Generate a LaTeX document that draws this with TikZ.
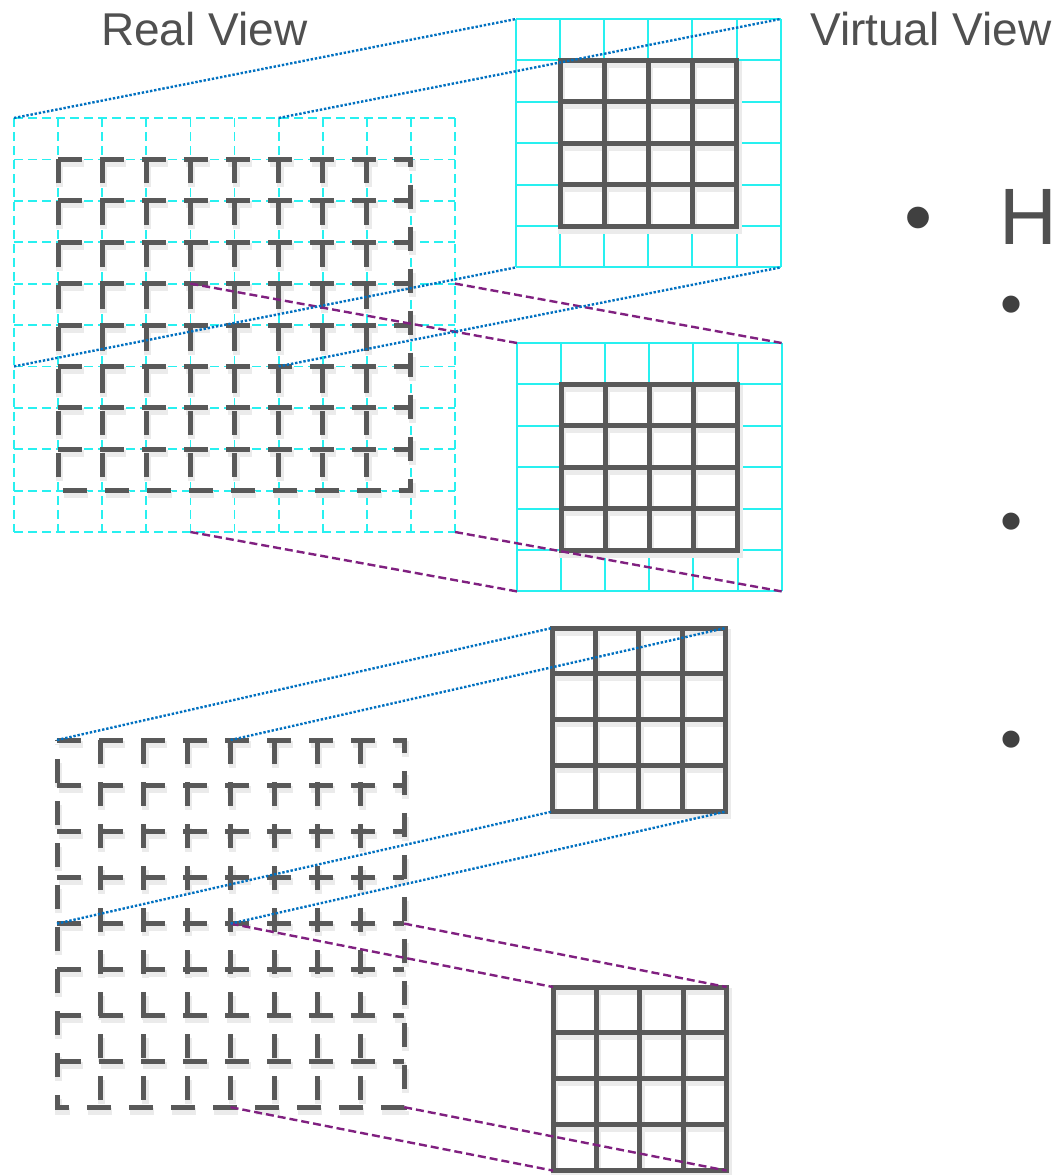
\documentclass[tikz,border=0pt]{standalone}
\usepackage{fontspec}
\setmainfont{Liberation Sans}
\usepackage{tikz}
\usetikzlibrary{positioning}
\usepackage{xcolor}

\definecolor{griddark}{RGB}{89,89,89}
\definecolor{gridcyan}{RGB}{40,240,240}
\definecolor{linkblue}{RGB}{0,112,192}
\definecolor{linkpurple}{RGB}{128,32,128}
\definecolor{textgray}{RGB}{80,80,80}
\definecolor{bulletgray}{RGB}{64,64,64}

\begin{document}
\begin{tikzpicture}[
  x=1pt, y=-1pt,
  shadowed/.style={preaction={draw=black!8, line width=7pt, #1,
                   transform canvas={shift={(1.5pt,-4pt)}}}},
  shadowed/.default={solid},
  realdash/.style={griddark, line width=5pt,
                   dash pattern=on 24pt off 18pt,
                   shadowed={dash pattern=on 24pt off 18pt}},
  virtline/.style={griddark, line width=5pt, shadowed},
  cyandash/.style={gridcyan, line width=1.8pt, dash pattern=on 9pt off 5pt},
  cyanline/.style={gridcyan, line width=2pt},
  bluelink/.style={linkblue, line width=2.4pt, dash pattern=on 2.4pt off 1.8pt},
  purplelink/.style={linkpurple, line width=2.4pt, dash pattern=on 8pt off 4pt},
  title/.style={font=\fontsize{46}{55}\selectfont, text=textgray,
                inner sep=0pt, anchor=base west},
  bigbullet/.style={font=\fontsize{80}{96}\selectfont, text=bulletgray,
                    inner sep=0pt, anchor=base},
  subbullet/.style={font=\fontsize{63}{76}\selectfont, text=bulletgray,
                    inner sep=0pt, anchor=base},
  headline/.style={font=\fontsize{80}{96}\selectfont, text=textgray,
                   inner sep=0pt, anchor=base west}
]

\useasboundingbox (0,0) rectangle (1063,1175);

% Cell sizes and origins
\def\rx{14}    % top real grid
\def\ry{118}
\def\rw{44.1}
\def\rh{41.4}
\def\vax{516}  % top virtual grids
\def\vay{19}
\def\vbx{517}
\def\vby{343}
\def\bx{57}    % bottom real grid
\def\by{740}
\def\bw{43.4}
\def\bh{45.9}
\def\vcx{552}  % bottom virtual grids
\def\vcy{628}
\def\vdx{553}
\def\vdy{987}

% Titles
\node[title] (realview) at (101,45) {Real View};
\node[title] (virtview) at (810,45) {Virtual View};

% Bullets
\node[bigbullet] (dotH) at (918,244) {•};
\node[headline] (head) at (999,244) {H};
\node[subbullet] (sub1) at (1012,325) {•};
\node[subbullet] (sub2) at (1012,542) {•};
\node[subbullet] (sub3) at (1012,760) {•};

% Top real view: cyan 10 x 10 cells
\draw[cyandash] \foreach \i in {0,...,10}{
    ({\rx+\i*\rw},\ry) -- ({\rx+\i*\rw},{\ry+10*\rh})
    (\rx,{\ry+\i*\rh}) -- ({\rx+10*\rw},{\ry+\i*\rh})
  };

% Top real view: dark 8 x 8 grid, dashed
\draw[realdash] ({\rx+\rw},{\ry+\rh}) -- ({\rx+9*\rw},{\ry+\rh})
  -- ({\rx+9*\rw},{\ry+9*\rh}) -- ({\rx+\rw},{\ry+9*\rh}) -- cycle
  \foreach \i in {2,...,8}{
    ({\rx+\i*\rw},{\ry+\rh}) -- ({\rx+\i*\rw},{\ry+9*\rh})
    ({\rx+\rw},{\ry+\i*\rh}) -- ({\rx+9*\rw},{\ry+\i*\rh})
  };

% Top virtual views (6 x 6 cyan, 4 x 4 dark)
\foreach \ox/\oy in {\vax/\vay, \vbx/\vby}{
  \draw[cyanline] \foreach \i in {0,...,6}{
      ({\ox+\i*\rw},\oy) -- ({\ox+\i*\rw},{\oy+6*\rh})
      (\ox,{\oy+\i*\rh}) -- ({\ox+6*\rw},{\oy+\i*\rh})
    };
  \draw[virtline] ({\ox+\rw},{\oy+\rh}) rectangle ({\ox+5*\rw},{\oy+5*\rh})
    \foreach \i in {2,3,4}{
      ({\ox+\i*\rw},{\oy+\rh}) -- ({\ox+\i*\rw},{\oy+5*\rh})
      ({\ox+\rw},{\oy+\i*\rh}) -- ({\ox+5*\rw},{\oy+\i*\rh})
    };
}

% Bottom real view: dark 8 x 8 grid, dashed
\draw[realdash] (\bx,\by) -- ({\bx+8*\bw},\by)
  -- ({\bx+8*\bw},{\by+8*\bh}) -- (\bx,{\by+8*\bh}) -- cycle
  \foreach \i in {1,...,7}{
    ({\bx+\i*\bw},\by) -- ({\bx+\i*\bw},{\by+8*\bh})
    (\bx,{\by+\i*\bh}) -- ({\bx+8*\bw},{\by+\i*\bh})
  };

% Bottom virtual views (4 x 4 dark)
\foreach \ox/\oy in {\vcx/\vcy, \vdx/\vdy}{
  \draw[virtline] (\ox,\oy) rectangle ({\ox+4*\bw},{\oy+4*\bh})
    \foreach \i in {1,2,3}{
      ({\ox+\i*\bw},\oy) -- ({\ox+\i*\bw},{\oy+4*\bh})
      (\ox,{\oy+\i*\bh}) -- ({\ox+4*\bw},{\oy+\i*\bh})
    };
}

% Window and view corners
\coordinate (winA-nw) at (\rx,\ry);
\coordinate (winA-ne) at ({\rx+6*\rw},\ry);
\coordinate (winA-sw) at (\rx,{\ry+6*\rh});
\coordinate (winA-se) at ({\rx+6*\rw},{\ry+6*\rh});
\coordinate (virA-nw) at (\vax,\vay);
\coordinate (virA-ne) at ({\vax+6*\rw},\vay);
\coordinate (virA-sw) at (\vax,{\vay+6*\rh});
\coordinate (virA-se) at ({\vax+6*\rw},{\vay+6*\rh});

\coordinate (winB-nw) at ({\rx+4*\rw},{\ry+4*\rh});
\coordinate (winB-ne) at ({\rx+10*\rw},{\ry+4*\rh});
\coordinate (winB-sw) at ({\rx+4*\rw},{\ry+10*\rh});
\coordinate (winB-se) at ({\rx+10*\rw},{\ry+10*\rh});
\coordinate (virB-nw) at (\vbx,\vby);
\coordinate (virB-ne) at ({\vbx+6*\rw},\vby);
\coordinate (virB-sw) at (\vbx,{\vby+6*\rh});
\coordinate (virB-se) at ({\vbx+6*\rw},{\vby+6*\rh});

\coordinate (winC-nw) at (\bx,\by);
\coordinate (winC-ne) at ({\bx+4*\bw},\by);
\coordinate (winC-sw) at (\bx,{\by+4*\bh});
\coordinate (winC-se) at ({\bx+4*\bw},{\by+4*\bh});
\coordinate (virC-nw) at (\vcx,\vcy);
\coordinate (virC-ne) at ({\vcx+4*\bw},\vcy);
\coordinate (virC-sw) at (\vcx,{\vcy+4*\bh});
\coordinate (virC-se) at ({\vcx+4*\bw},{\vcy+4*\bh});

\coordinate (winD-nw) at ({\bx+4*\bw},{\by+4*\bh});
\coordinate (winD-ne) at ({\bx+8*\bw},{\by+4*\bh});
\coordinate (winD-sw) at ({\bx+4*\bw},{\by+8*\bh});
\coordinate (winD-se) at ({\bx+8*\bw},{\by+8*\bh});
\coordinate (virD-nw) at (\vdx,\vdy);
\coordinate (virD-ne) at ({\vdx+4*\bw},\vdy);
\coordinate (virD-sw) at (\vdx,{\vdy+4*\bh});
\coordinate (virD-se) at ({\vdx+4*\bw},{\vdy+4*\bh});

% Zoom links
\foreach \c in {nw,ne,sw,se}{
  \draw[bluelink] (winA-\c) -- (virA-\c);
  \draw[purplelink] (winB-\c) -- (virB-\c);
  \draw[bluelink] (winC-\c) -- (virC-\c);
  \draw[purplelink] (winD-\c) -- (virD-\c);
}

\end{tikzpicture}
\end{document}
